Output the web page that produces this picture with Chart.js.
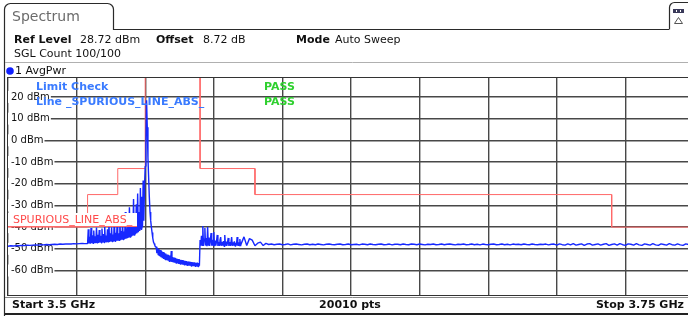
<!DOCTYPE html>
<html>
<head>
<meta charset="utf-8">
<script src="https://cdn.jsdelivr.net/npm/chart.js@4.4.0/dist/chart.umd.min.js"></script>
<style>
  html, body { margin: 0; padding: 0; background: #fff; width: 688px; height: 316px; overflow: hidden; }
  canvas { display: block; }
</style>
</head>
<body>
<canvas id="spectrum" width="700" height="316"></canvas>
<script>
// sweep span and reference level
const startMHz = 3500;
const stopMHz = 3750;
const refLevelDbm = 28.72;
const bottomLevelDbm = -71.28;
const yTickDbm = [-60, -50, -40, -30, -20, -10, 0, 10, 20];
const xGridMHz = [3500, 3525, 3550, 3575, 3600, 3625, 3650, 3675, 3700, 3725, 3750];

// trace, one array per sweep section
const sectionStartMHz = [3500, 3529, 3550, 3554, 3570, 3585];
const sectionStepMHz = [1, 0.25, 0.25, 0.25, 0.25, 1];

const noiseLeftDbm = [-48.8, -48.6, -48.7, -48.5, -48.6, -48.4, -48.5, -48.3, -48.4, -48.3,
  -48.2, -48.3, -48.1, -48.2, -48.0, -48.1, -48.0, -47.9, -48.0, -47.8,
  -47.9, -47.8, -47.7, -47.8, -47.6, -47.7, -47.6, -47.5, -47.6];

// spurious cluster left of the carrier (base, top, base, top ...)
const spurClusterDbm = [
  -47.6, -41.0, -47.5, -44.5, -47.6, -40.4, -47.4, -43.8, -47.5, -41.6,
  -47.3, -44.2, -47.4, -40.2, -47.2, -43.5, -47.3, -41.3, -47.1, -44.0,
  -47.2, -40.6, -47.0, -43.2, -47.1, -39.8, -46.9, -43.9, -47.0, -41.0,
  -46.8, -36.5, -46.8, -42.8, -46.6, -40.1, -46.7, -43.4, -46.5, -35.5,
  -46.5, -42.6, -46.3, -39.2, -46.3, -42.9, -46.1, -34.2, -46.0, -41.8,
  -45.8, -38.0, -45.7, -42.0, -45.5, -33.0, -45.3, -40.5, -45.1, -36.5,
  -44.9, -30.8, -44.6, -39.0, -44.3, -33.5, -44.0, -27.0, -43.6, -36.0,
  -43.2, -29.5, -42.8, -24.5, -42.3, -33.0, -41.8, -22.0, -41.0, -26.0,
  -40.0, -18.5, -37.0, -21.0];

const carrierDbm = [-12.0, -2.0, 18.5, 6.0, -8.0, -17.0, -26.0, -33.0, -37.0, -40.0,
  -42.5, -45.0, -46.8, -47.6, -48.4, -49.2];

// skirt after the carrier (upper, lower, upper, lower ...)
const decayDbm = [
  -49.0, -52.0, -49.6, -52.8, -50.1, -53.4, -50.6, -53.9, -51.0, -54.3,
  -51.5, -54.6, -51.9, -54.9, -52.2, -55.2, -52.6, -55.4, -52.9, -55.7,
  -53.1, -55.9, -51.0, -56.0, -53.8, -56.3, -54.0, -56.4, -54.3, -56.6,
  -54.5, -56.7, -54.7, -56.9, -54.9, -57.0, -55.1, -57.2, -55.2, -57.3,
  -55.4, -57.4, -55.5, -57.5, -55.7, -57.6, -55.8, -57.7, -55.9, -57.8,
  -56.0, -57.9, -56.1, -58.0, -56.2, -58.0, -56.3, -58.1, -56.4, -58.1,
  -56.4, -58.2, -56.5, -57.8];

const afterJumpDbm = [
  -46.0, -48.6, -44.0, -48.4, -39.5, -48.7, -45.5, -40.4, -48.5, -45.0,
  -48.8, -40.0, -48.3, -44.8, -48.7, -46.0, -42.7, -48.6, -45.8, -48.4,
  -42.3, -48.8, -46.2, -48.5, -46.5, -43.6, -48.7, -46.8, -48.4, -46.0,
  -44.6, -48.6, -46.9, -48.5, -46.4, -48.8, -43.6, -48.5, -46.7, -48.6,
  -47.0, -45.0, -48.7, -46.9, -48.4, -47.1, -44.6, -48.6, -47.0, -48.5,
  -46.6, -48.7, -47.2, -48.4, -44.6, -48.6, -47.0, -48.5, -45.5, -48.7];

const floorDbm = [
  -47.6, -44.5, -48.5, -45.3, -46.0, -48.6, -47.4, -46.9, -48.5, -47.5,
  -48.0, -47.8, -48.1, -47.9, -47.8, -48.1, -48.0, -47.7, -48.2, -47.9,
  -47.8, -48.0, -48.2, -47.9, -47.8, -48.1, -47.9, -48.1, -47.8, -48.0,
  -48.2, -47.9, -47.8, -48.0, -48.1, -47.9, -47.8, -48.1, -48.0, -47.8,
  -48.1, -48.0, -47.9, -48.2, -47.8, -47.9, -48.1, -47.8, -48.0, -48.1,
  -47.9, -47.8, -48.1, -48.0, -47.8, -48.2, -47.9, -47.9, -48.1, -47.8,
  -48.0, -48.1, -47.8, -47.9, -48.1, -47.8, -48.0, -48.2, -47.9, -48.0,
  -47.8, -48.1, -48.0, -47.8, -48.1, -47.9, -47.8, -48.0, -48.2, -47.9,
  -48.0, -47.8, -48.1, -48.0, -47.8, -48.1, -47.9, -48.2, -47.8, -48.0,
  -48.1, -47.9, -47.8, -48.1, -48.0, -47.8, -48.1, -47.9, -48.2, -47.8,
  -48.0, -47.9, -48.1, -47.8, -48.0, -48.1, -47.8, -48.0, -48.1, -47.9,
  -48.0, -47.8, -48.2, -47.9, -47.8, -48.3, -47.7, -48.1, -48.3, -47.7,
  -48.2, -47.6, -48.3, -48.0, -47.7, -48.4, -47.8, -47.6, -48.3, -48.0,
  -47.7, -48.3, -47.9, -47.6, -48.4, -48.0, -47.7, -48.3, -47.6, -48.1,
  -48.4, -47.7, -47.9, -48.3, -47.6, -48.2, -48.4, -47.7, -48.0, -48.3,
  -47.6, -48.2, -48.4, -47.7, -48.0, -48.3, -47.6, -48.1, -48.3, -47.7,
  -48.2, -48.4, -47.7, -48.0, -48.3, -47.7];

// limit line SPURIOUS_LINE_ABS_
const limitMHz = [3500, 3529, 3529, 3540, 3540, 3550, 3550, 3570, 3570, 3590, 3590, 3720, 3720, 3750];
const limitDbm = [-40, -40, -25, -25, -13, -13, 45, 45, -13, -13, -25, -25, -40, -40];

const traceSections = [noiseLeftDbm, spurClusterDbm, carrierDbm, decayDbm, afterJumpDbm, floorDbm];
const tracePoints = [];
traceSections.forEach((levels, s) => {
  levels.forEach((v, i) => {
    tracePoints.push({ x: sectionStartMHz[s] + i * sectionStepMHz[s], y: v });
  });
});
const limitPoints = limitMHz.map((f, i) => ({ x: f, y: limitDbm[i] }));

const FONT = '"DejaVu Sans", "Liberation Sans", sans-serif';

function txt(ctx, s, x, y, font, color, align) {
  ctx.font = font;
  ctx.fillStyle = color;
  ctx.textAlign = align || 'left';
  ctx.textBaseline = 'middle';
  ctx.fillText(s, x, y);
}

// screen furniture around the diagram
const analyzerFrame = {
  id: 'analyzerFrame',
  beforeDraw(chart) {
    const ctx = chart.ctx;
    ctx.save();
    ctx.fillStyle = '#fff';
    ctx.fillRect(0, 0, chart.width, chart.height);

    // tab
    ctx.strokeStyle = '#2a2a2a';
    ctx.lineWidth = 1.2;
    ctx.beginPath();
    ctx.moveTo(4.5, 316);
    ctx.lineTo(4.5, 10);
    ctx.arcTo(4.5, 3.5, 11, 3.5, 6);
    ctx.lineTo(106, 3.5);
    ctx.arcTo(113.5, 3.5, 113.5, 10, 6);
    ctx.lineTo(113.5, 29.5);
    ctx.lineTo(669, 29.5);
    ctx.stroke();

    // icon box top right
    ctx.beginPath();
    ctx.moveTo(669.5, 29.5);
    ctx.lineTo(669.5, 8);
    ctx.arcTo(669.5, 2.5, 675, 2.5, 5);
    ctx.lineTo(700, 2.5);
    ctx.stroke();
    ctx.fillStyle = '#3a3a5a';
    ctx.fillRect(673, 9, 11, 4);
    ctx.fillStyle = '#fff';
    ctx.fillRect(676, 10, 1, 2);
    ctx.fillRect(680, 10, 1, 2);
    ctx.strokeStyle = '#555';
    ctx.lineWidth = 1;
    ctx.beginPath();
    ctx.moveTo(678.5, 17.5);
    ctx.lineTo(682.5, 23.5);
    ctx.lineTo(674.5, 23.5);
    ctx.closePath();
    ctx.stroke();

    txt(ctx, 'Spectrum', 12, 17, '14px ' + FONT, '#6b6b6b');

    // header
    const b = 'bold 11px ' + FONT;
    const n = '11px ' + FONT;
    txt(ctx, 'Ref Level', 14, 40, b, '#111');
    txt(ctx, '28.72 dBm', 80, 40, n, '#111');
    txt(ctx, 'Offset', 156, 40, b, '#111');
    txt(ctx, '8.72 dB', 203, 40, n, '#111');
    txt(ctx, 'Mode', 296, 40, b, '#111');
    txt(ctx, 'Auto Sweep', 335, 40, n, '#111');
    txt(ctx, 'SGL Count 100/100', 14, 54, n, '#111');

    ctx.strokeStyle = '#b0b0b0';
    ctx.lineWidth = 1;
    ctx.beginPath();
    ctx.moveTo(5, 62.5);
    ctx.lineTo(700, 62.5);
    ctx.stroke();

    // trace label
    ctx.fillStyle = '#1020ff';
    ctx.beginPath();
    ctx.arc(10, 71, 3.8, 0, Math.PI * 2);
    ctx.fill();
    txt(ctx, '1 AvgPwr', 15, 71, n, '#111');

    // footer
    txt(ctx, 'Start 3.5 GHz', 12, 305, b, '#111');
    txt(ctx, '20010 pts', 350, 305, b, '#111', 'center');
    txt(ctx, 'Stop 3.75 GHz', 684, 305, b, '#111', 'right');
    ctx.strokeStyle = '#888';
    ctx.beginPath();
    ctx.moveTo(5, 297.5);
    ctx.lineTo(700, 297.5);
    ctx.stroke();
    ctx.strokeStyle = '#222';
    ctx.lineWidth = 2;
    ctx.beginPath();
    ctx.moveTo(5, 314);
    ctx.lineTo(700, 314);
    ctx.stroke();
    ctx.restore();
  },
  afterDatasetsDraw(chart) {
    const ctx = chart.ctx;
    const y = chart.scales.y;
    const a = chart.chartArea;
    ctx.save();
    // limit line label
    const ly = Math.round(y.getPixelForValue(-40));
    ctx.fillStyle = '#fff';
    ctx.fillRect(a.left, ly - 14, 129, 14);
    ctx.strokeStyle = '#ff6a6a';
    ctx.lineWidth = 1;
    ctx.beginPath();
    ctx.moveTo(a.left, ly - 0.5);
    ctx.lineTo(a.left + 129, ly - 0.5);
    ctx.stroke();
    txt(ctx, 'SPURIOUS_LINE_ABS_', a.left + 5, ly - 7, '11px ' + FONT, '#ff4a4a');

    // limit check result
    const b = 'bold 11px ' + FONT;
    txt(ctx, 'Limit Check', 36, 87, b, '#3a7bff');
    txt(ctx, 'Line _SPURIOUS_LINE_ABS_', 36, 102, b, '#3a7bff');
    txt(ctx, 'PASS', 264, 87, b, '#2fd02f');
    txt(ctx, 'PASS', 264, 102, b, '#2fd02f');
    ctx.restore();
  },
  afterDraw(chart) {
    const ctx = chart.ctx;
    const a = chart.chartArea;
    ctx.save();
    ctx.strokeStyle = '#333';
    ctx.lineWidth = 1;
    ctx.strokeRect(a.left - 0.5, a.top - 0.5, a.right - a.left + 1, a.bottom - a.top + 1);
    ctx.restore();
  }
};

new Chart(document.getElementById('spectrum'), {
  type: 'line',
  data: {
    datasets: [
      {
        label: '1 AvgPwr',
        data: tracePoints,
        borderColor: 'rgb(22, 40, 255)',
        borderWidth: 1.4,
        borderJoinStyle: 'bevel',
        pointRadius: 0,
        tension: 0
      },
      {
        label: 'SPURIOUS_LINE_ABS_',
        data: limitPoints,
        borderColor: 'rgb(255, 105, 105)',
        borderWidth: 1,
        pointRadius: 0,
        tension: 0
      }
    ]
  },
  options: {
    responsive: false,
    animation: false,
    events: [],
    layout: { padding: { left: 8, top: 78, right: 6, bottom: 21 } },
    plugins: {
      legend: { display: false },
      tooltip: { enabled: false }
    },
    scales: {
      x: {
        type: 'linear',
        min: startMHz,
        max: stopMHz,
        afterBuildTicks: (s) => { s.ticks = xGridMHz.map(v => ({ value: v })); },
        afterFit: (s) => { s.height = 0; },
        grid: { color: '#484848', lineWidth: 1.4, drawTicks: false },
        border: { display: false },
        ticks: { display: false }
      },
      y: {
        type: 'linear',
        min: bottomLevelDbm,
        max: refLevelDbm,
        afterBuildTicks: (s) => { s.ticks = yTickDbm.map(v => ({ value: v })); },
        afterFit: (s) => { s.width = 0; },
        grid: { color: '#484848', lineWidth: 1.4, drawTicks: false },
        border: { display: false },
        ticks: {
          mirror: true,
          padding: 3,
          color: '#111',
          font: { family: FONT, size: 10 },
          showLabelBackdrop: true,
          backdropColor: '#fff',
          backdropPadding: { left: 3, right: 1, top: 0, bottom: 0 },
          callback: (v) => v + ' dBm'
        }
      }
    }
  },
  plugins: [analyzerFrame]
});
</script>
</body>
</html>
